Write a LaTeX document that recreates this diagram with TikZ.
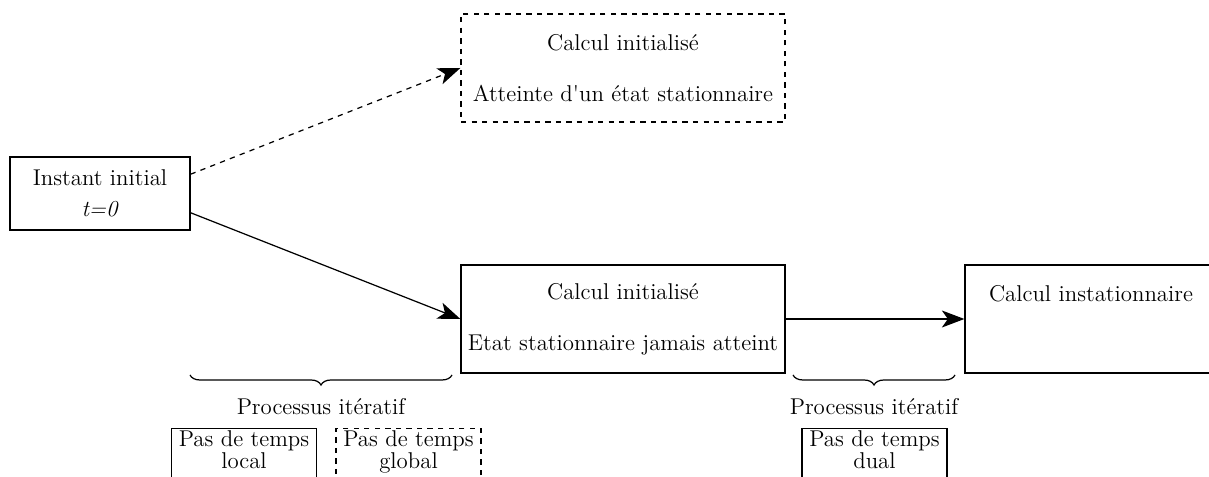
\documentclass[tikz,border=0pt]{standalone}
\usetikzlibrary{arrows.meta,decorations.pathreplacing}
\tikzset{
    etape/.style={draw,rectangle,align=center,inner sep=2pt,line width=0.7pt,font=\fontsize{13}{15}\selectfont},
    pasbox/.style={draw,rectangle,align=center,anchor=north,minimum width=2.9cm,line width=0.7pt,
        inner sep=1pt,text depth=1cm,font=\fontsize{13}{11}\selectfont},
    fleche/.style={-{Stealth[length=4.5mm,width=3.4mm,inset=1.2mm]},line width=0.7pt},
    accolade/.style={decorate,decoration={brace,mirror,amplitude=0.2cm},line width=0.7pt},
}
\begin{document}
\begin{tikzpicture}
    \useasboundingbox (0,0) rectangle (24.18,-9.54);
    %% Etats
    \node[etape,minimum width=3.6cm,minimum height=1.46cm] (init) at (2.0,-3.87) {Instant initial\\[0.1cm] \textit{t=0}};
    \node[etape,dashed,minimum width=6.48cm,minimum height=2.16cm] (stat) at (12.46,-1.36) {Calcul initialisé\\[0.5cm] Atteinte d\textquotesingle un état stationnaire};
    \node[etape,minimum width=6.48cm,minimum height=2.16cm] (jamais) at (12.46,-6.38) {Calcul initialisé\\[0.5cm] Etat stationnaire jamais atteint};
    \node[etape,minimum width=5.04cm,minimum height=2.16cm] (instat) at (21.82,-6.38) {Calcul instationnaire\\[0.5cm] \mbox{}};
    %% Transitions
    \draw[fleche,dashed] (init.12) -- (stat.west);
    \draw[fleche] (init.-12) -- (jamais.west);
    \draw[fleche] (jamais.east) -- (instat.west);
    %% Processus iteratifs
    \coordinate (b1a) at (3.8,-7.5);
    \coordinate (b1b) at (9.04,-7.5);
    \coordinate (b2a) at (15.86,-7.5);
    \coordinate (b2b) at (19.1,-7.5);
    \draw[accolade] (b1a) -- (b1b) node[pos=0.5,below=0.33cm,font=\fontsize{13}{15}\selectfont] (proc1) {Processus itératif};
    \draw[accolade] (b2a) -- (b2b) node[pos=0.5,below=0.33cm,font=\fontsize{13}{15}\selectfont] (proc2) {Processus itératif};
    %% Pas de temps
    \node[pasbox] (local) at (4.88,-8.56) {Pas de temps\\ local};
    \node[pasbox,dashed] (global) at (8.17,-8.56) {Pas de temps\\ global};
    \node[pasbox] (dual) at (17.49,-8.56) {Pas de temps\\ dual};
\end{tikzpicture}
\end{document}
